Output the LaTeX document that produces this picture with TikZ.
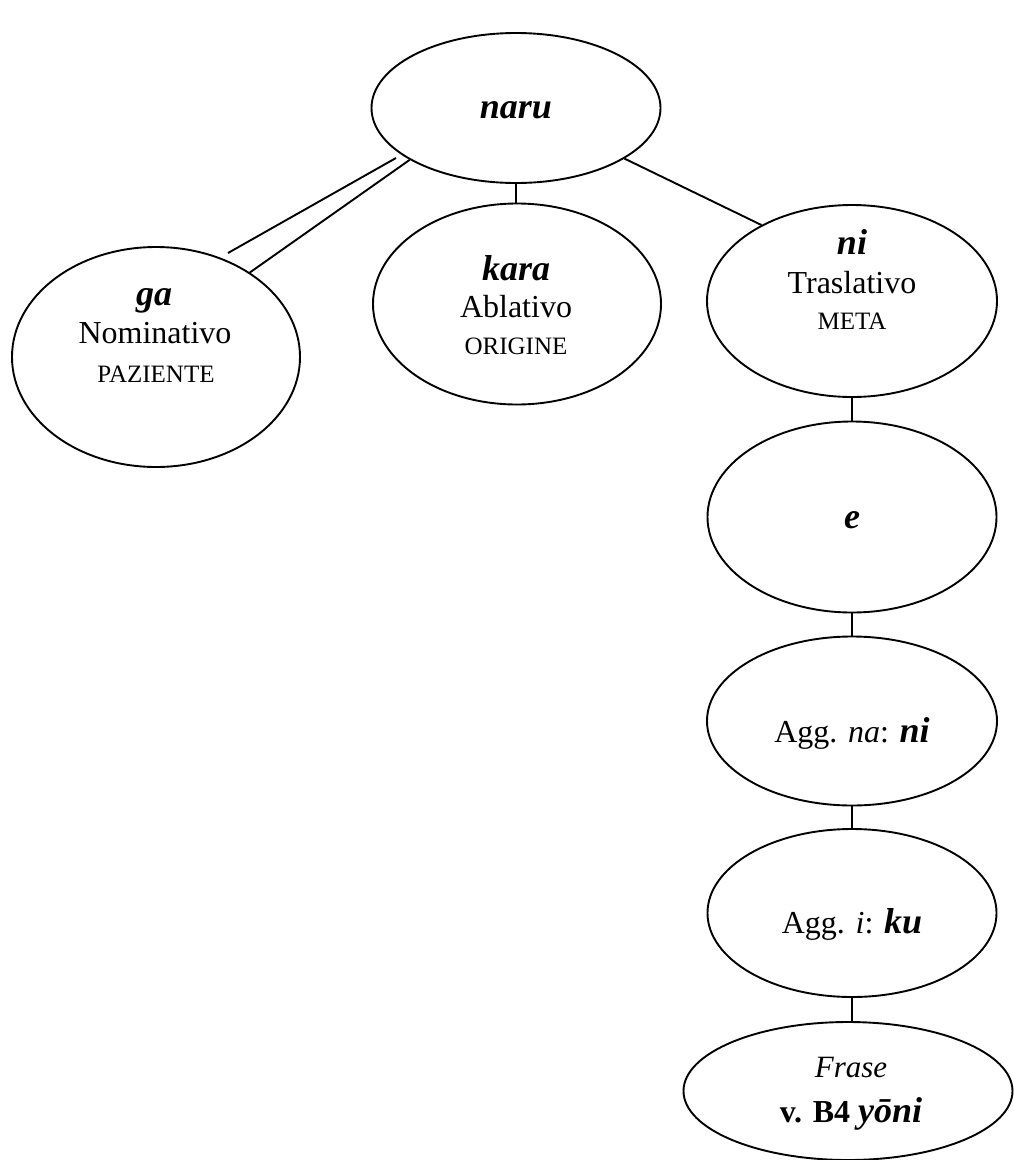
\documentclass[tikz,border=0pt]{standalone}
\usepackage{fontspec}
\setmainfont{Liberation Serif}
\usetikzlibrary{shapes.geometric}

\tikzset{
  oval/.style={draw, ellipse, line width=1.9pt, inner sep=0pt},
  link/.style={draw, line width=1.9pt},
  word/.style={anchor=base, inner sep=0pt, font=\fontsize{36}{40}\selectfont\bfseries\itshape},
  gloss/.style={anchor=base, inner sep=0pt, font=\fontsize{32}{36}\selectfont},
  role/.style={anchor=base, inner sep=0pt, font=\fontsize{25}{28}\selectfont},
}
\newcommand{\bi}[1]{{\fontsize{36}{40}\selectfont\bfseries\itshape #1}}

\begin{document}
\begin{tikzpicture}[x=1pt, y=-1pt]
  \useasboundingbox (0,0) rectangle (1013,1160);

  % ellipses
  \node[oval, minimum width=289pt, minimum height=150pt] (naru) at (516,108) {};
  \node[oval, minimum width=288pt, minimum height=220pt] (ga)   at (156,357) {};
  \node[oval, minimum width=288pt, minimum height=201pt] (kara) at (517,304) {};
  \node[oval, minimum width=290pt, minimum height=192pt] (ni)   at (852,301) {};
  \node[oval, minimum width=289pt, minimum height=191pt] (e)    at (852,517) {};
  \node[oval, minimum width=290pt, minimum height=169pt] (na)   at (852,721) {};
  \node[oval, minimum width=289pt, minimum height=168pt] (i)    at (852,913) {};
  \node[oval, minimum width=329pt, minimum height=138pt] (frase) at (848,1091) {};

  % texts
  \node[word]  (naru-t) at (516,118) {naru};

  \node[word]  (ga-t1) at (154,305) {ga};
  \node[gloss] (ga-t2) at (155,343) {Nominativo};
  \node[role]  (ga-t3) at (156,382) {PAZIENTE};

  \node[word]  (kara-t1) at (516,280) {kara};
  \node[gloss] (kara-t2) at (516,317) {Ablativo};
  \node[role]  (kara-t3) at (516,354) {ORIGINE};

  \node[word]  (ni-t1) at (852,254) {ni};
  \node[gloss] (ni-t2) at (852,293) {Traslativo};
  \node[role]  (ni-t3) at (852,329) {META};

  \node[word]  (e-t) at (852,528) {e};

  \node[gloss] (na-t) at (852,742) {Agg. \textit{na}: \bi{ni}};
  \node[gloss] (i-t)  at (852,933) {Agg. \textit{i}: \bi{ku}};

  \node[gloss, font=\fontsize{31}{34}\selectfont\itshape] (frase-t1) at (851,1077) {Frase};
  \node[gloss] (frase-t2) at (851,1122) {\textbf{v. B4} \bi{yōni}};

  % connectors
  \coordinate (g1a) at (396,158);
  \coordinate (g1b) at (228,253);
  \draw[link] (g1a) -- (g1b);
  \draw[link] (naru.206) -- (ga.42);
  \draw[link] (naru.south) -- (naru.south |- kara.north);
  \draw[link] (naru.-25) -- (ni.140);
  \draw[link] (ni.south) -- (e.north);
  \draw[link] (e.south) -- (na.north);
  \draw[link] (na.south) -- (i.north);
  \draw[link] (i.south) -- (i.south |- frase.north);
\end{tikzpicture}
\end{document}
